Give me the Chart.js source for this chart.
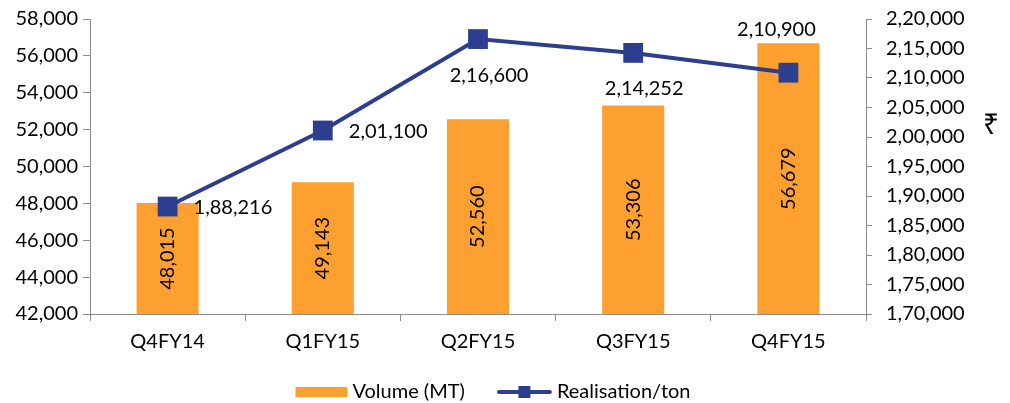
<!DOCTYPE html>
<html>
<head>
<meta charset="utf-8">
<script src="https://cdn.jsdelivr.net/npm/chart.js@4.4.0/dist/chart.umd.min.js"></script>
<style>
  html, body { margin: 0; padding: 0; background: #fff; }
</style>
</head>
<body>
<canvas id="canvas-chart" width="1010" height="403"></canvas>
<script>
const quarters = ['Q4FY14', 'Q1FY15', 'Q2FY15', 'Q3FY15', 'Q4FY15'];
const volumeMT = [48015, 49143, 52560, 53306, 56679];
const realisationPerTon = [188216, 201100, 216600, 214252, 210900];
const volumeAxis = [42000, 58000, 2000];       // min, max, step
const realisationAxis = [170000, 220000, 5000]; // min, max, step

const ORANGE = '#FDA030';
const NAVY = '#2E3E8E';
const AXIS = '#8c8c8c';
const FONT = 'Lato';
const FONT_SIZE = 20;

// Indian digit grouping: 1,88,216
function inr(n) {
    let s = String(Math.round(n));
    let last3 = s.slice(-3);
    let rest = s.slice(0, -3);
    if (!rest) return last3;
    rest = rest.replace(/\B(?=(\d{2})+(?!\d))/g, ',');
    return rest + ',' + last3;
}
function us(n) {
    return String(Math.round(n)).replace(/\B(?=(\d{3})+(?!\d))/g, ',');
}

// where each realisation label sits relative to its point
const lineLabelPlace = ['right', 'right', 'below', 'below', 'above'];

const valueLabels = {
    id: 'valueLabels',
    afterDraw(chart) {
        let ctx = chart.ctx;
        let xs = chart.scales.x, ys = chart.scales.y, ys1 = chart.scales.y1;
        ctx.save();
        ctx.font = FONT_SIZE + 'px ' + FONT;
        ctx.fillStyle = '#000';

        // bar values, rotated, centred in bar
        volumeMT.forEach((v, i) => {
            let cx = xs.getPixelForValue(i);
            let top = ys.getPixelForValue(v);
            let cy = (top + ys.bottom) / 2;
            ctx.save();
            ctx.translate(cx, cy);
            ctx.rotate(-Math.PI / 2);
            ctx.textAlign = 'center';
            ctx.textBaseline = 'middle';
            ctx.fillText(us(v), 0, 0);
            ctx.restore();
        });

        // line values
        realisationPerTon.forEach((v, i) => {
            let px = xs.getPixelForValue(i);
            let py = ys1.getPixelForValue(v);
            let txt = inr(v);
            let place = lineLabelPlace[i];
            ctx.textBaseline = 'middle';
            if (place === 'right') {
                ctx.textAlign = 'left';
                ctx.fillText(txt, px + 26, py + 1);
            } else if (place === 'below') {
                ctx.textAlign = 'center';
                ctx.fillText(txt, px + 11, py + 36);
            } else {
                ctx.textAlign = 'center';
                ctx.fillText(txt, px - 12, py - 43);
            }
        });

        // rupee sign beside right axis
        let a = chart.chartArea;
        ctx.font = '28px "Noto Sans"';
        ctx.textAlign = 'center';
        ctx.textBaseline = 'middle';
        ctx.fillText('\u20B9', a.right + 125, a.top + 107);

        // legend
        ctx.font = FONT_SIZE + 'px ' + FONT;
        ctx.textAlign = 'left';
        let names = chart.data.datasets.map(d => d.label);
        let w1 = ctx.measureText(names[0]).width;
        let w2 = ctx.measureText(names[1]).width;
        let total = 52 + 5 + w1 + 32 + 55 + 5 + w2;
        let x = chart.width / 2 - 12 - total / 2;
        let y = 392;
        ctx.fillStyle = ORANGE;
        ctx.fillRect(x, y - 5, 52, 10);
        x += 57;
        ctx.fillStyle = '#000';
        ctx.fillText(names[0], x, y);
        x += w1 + 32;
        ctx.strokeStyle = NAVY;
        ctx.lineWidth = 4;
        ctx.lineCap = 'round';
        ctx.beginPath();
        ctx.moveTo(x + 2, y);
        ctx.lineTo(x + 53, y);
        ctx.stroke();
        ctx.fillStyle = NAVY;
        ctx.fillRect(x + 27.5 - 6, y - 6, 12, 12);
        x += 60;
        ctx.fillStyle = '#000';
        ctx.fillText(names[1], x, y);
        ctx.restore();
    }
};

function noOverhang(scale) {
    scale.paddingTop = 0;
    scale.paddingBottom = 0;
    scale.paddingLeft = 0;
    scale.paddingRight = 0;
}

let ctx = document.getElementById('canvas-chart').getContext('2d');

Chart.defaults.font.family = FONT;
Chart.defaults.font.size = FONT_SIZE;
Chart.defaults.color = '#000';

let chart = new Chart(ctx, {
    type: 'bar',
    data: {
        labels: quarters,
        datasets: [{
            label: 'Volume (MT)',
            data: volumeMT,
            backgroundColor: ORANGE,
            yAxisID: 'y',
            barPercentage: 0.4,
            categoryPercentage: 1,
            order: 1
        }, {
            type: 'line',
            label: 'Realisation/ton',
            data: realisationPerTon,
            borderColor: NAVY,
            backgroundColor: NAVY,
            borderWidth: 4,
            pointStyle: 'rect',
            pointRadius: 14,
            pointBorderWidth: 0,
            tension: 0,
            yAxisID: 'y1',
            order: 0
        }]
    },
    plugins: [valueLabels],
    options: {
        responsive: false,
        animation: false,
        layout: {
            autoPadding: false,
            padding: { top: 19, bottom: 47, left: 0, right: 0 }
        },
        scales: {
            x: {
                offset: true,
                grid: {
                    offset: true,
                    drawOnChartArea: false,
                    color: AXIS,
                    tickLength: 7
                },
                border: { color: AXIS },
                ticks: { padding: 9 },
                afterFit(scale) { scale.height = 42; noOverhang(scale); }
            },
            y: {
                position: 'left',
                min: volumeAxis[0],
                max: volumeAxis[1],
                ticks: {
                    stepSize: volumeAxis[2],
                    padding: 5,
                    callback: v => us(v)
                },
                grid: { drawOnChartArea: false, color: AXIS, tickLength: 7 },
                border: { color: AXIS },
                afterFit(scale) { scale.width = 90; noOverhang(scale); }
            },
            y1: {
                position: 'right',
                min: realisationAxis[0],
                max: realisationAxis[1],
                ticks: {
                    stepSize: realisationAxis[2],
                    padding: 14,
                    callback: v => inr(v)
                },
                grid: { drawOnChartArea: false, color: AXIS, tickLength: 6 },
                border: { color: AXIS },
                afterFit(scale) { scale.width = 144; noOverhang(scale); }
            }
        },
        plugins: {
            tooltip: { enabled: false },
            legend: { display: false }
        }
    }
});
</script>
</body>
</html>
